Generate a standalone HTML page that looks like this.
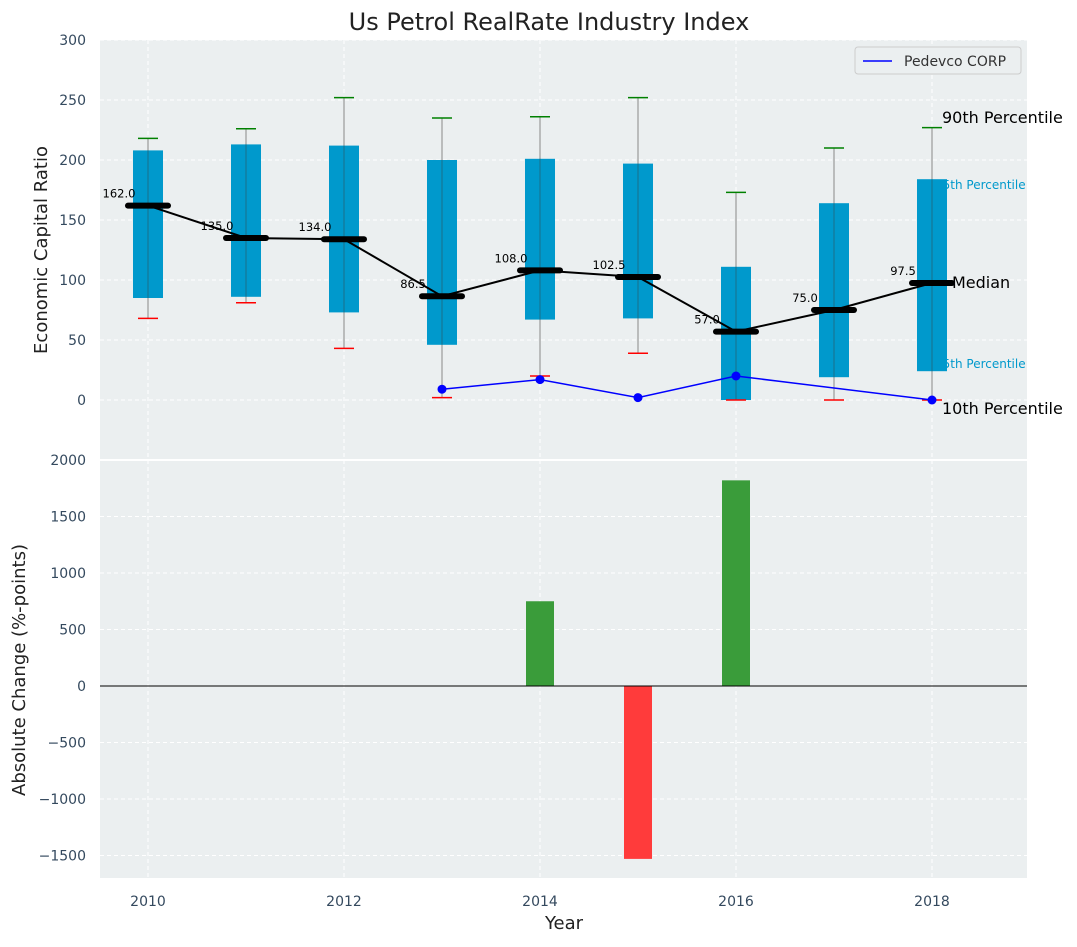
<!DOCTYPE html>
<html><head><meta charset="utf-8"><style>
body{margin:0;background:#fff;font-family:"Liberation Sans","DejaVu Sans",sans-serif}
svg text{font-family:"DejaVu Sans","Liberation Sans",sans-serif}
</style></head><body>
<svg id="c" width="1077" height="942"></svg>
<script>
const years=[2010,2011,2012,2013,2014,2015,2016,2017,2018];
const p10=[68,81,43,2,20,39,0,0,0];
const q1=[85,86,73,46,67,68,0,19,24];
const med=[162,135,134,86.5,108,102.5,57,75,97.5];
const q3=[208,213,212,200,201,197,111,164,184];
const p90=[218,226,252,235,236,252,173,210,227];
const pedYears=[2013,2014,2015,2016,2018];
const pedVals=[9,17,2,20,0];
const chgYears=[2014,2015,2016];
const chgVals=[750,-1530,1820];
const topTicks=[0,50,100,150,200,250,300];
const botTicks=[-1500,-1000,-500,0,500,1000,1500,2000];
const xTicks=[2010,2012,2014,2016,2018];

const NS="http://www.w3.org/2000/svg",svg=document.getElementById('c');
function el(t,a,txt,p){const e=document.createElementNS(NS,t);for(const k in a)e.setAttribute(k,a[k]);if(txt!=null)e.textContent=txt;(p||svg).appendChild(e);return e;}
const X=y=>148+(y-2010)*98;
const YT=v=>400-v*1.2;
const YB=v=>686-v*0.113;
const L=100,R=1027;

// backgrounds
let b=el('rect',{x:L,y:40,width:R-L,height:420,fill:'#ebeff0'});

b=el('rect',{x:L,y:460,width:R-L,height:418,fill:'#ebeff0'});

el('line',{x1:L,x2:R,y1:460,y2:460,stroke:'#fff','stroke-width':2});
// grids
xTicks.forEach(t=>{el('line',{x1:X(t),x2:X(t),y1:40,y2:878,stroke:'#fff','stroke-dasharray':'4,3'});
 const tx=el('text',{x:X(t),y:906,'text-anchor':'middle','font-size':14,fill:'#34495e'},t);
 });
topTicks.forEach(t=>{el('line',{x1:L,x2:R,y1:YT(t),y2:YT(t),stroke:'#fff','stroke-dasharray':'4,3'});
 const tx=el('text',{x:86,y:YT(t)+5,'text-anchor':'end','font-size':14,fill:'#34495e'},t);
 });
botTicks.forEach(t=>{el('line',{x1:L,x2:R,y1:YB(t),y2:YB(t),stroke:'#fff','stroke-dasharray':'4,3'});
 const tx=el('text',{x:86,y:YB(t)+5,'text-anchor':'end','font-size':14,fill:'#34495e'},String(t).replace('-','\u2212'));
 });

// labels behind boxes
const lb=[['90th Percentile',942,123,16,'#000'],['75th Percentile',935,189,12,'#0099cc'],['25th Percentile',935,368,12,'#0099cc'],['Median',952,288,16,'#000'],['10th Percentile',942,414,16,'#000']];
lb.forEach(l=>{const t=el('text',{x:l[1],y:l[2],'font-size':l[3],fill:l[4]},l[0]);
 });

// boxes
years.forEach((y,i)=>{const x=X(y);
 const w=el('line',{x1:x,x2:x,y1:YT(p90[i]),y2:YT(p10[i]),stroke:'#888','stroke-width':1});
 
 const r=el('rect',{x:x-15,y:YT(q3[i]),width:30,height:YT(q1[i])-YT(q3[i]),fill:'#0099cc'});
 
 el('line',{x1:x,x2:x,y1:YT(q3[i]),y2:YT(q1[i]),stroke:'#1a6f8a','stroke-width':1});
 const c1=el('line',{x1:x-10,x2:x+10,y1:YT(p90[i]),y2:YT(p90[i]),stroke:'green','stroke-width':1.5});
 
 const c2=el('line',{x1:x-10,x2:x+10,y1:YT(p10[i]),y2:YT(p10[i]),stroke:'red','stroke-width':1.5});
 
});
// median line
const ml=el('polyline',{points:years.map((y,i)=>X(y)+','+YT(med[i])).join(' '),fill:'none',stroke:'#000','stroke-width':2});

years.forEach((y,i)=>{const x=X(y);
 const m=el('line',{x1:x-20,x2:x+20,y1:YT(med[i]),y2:YT(med[i]),stroke:'#000','stroke-width':6,'stroke-linecap':'round'});
 
 const t=el('text',{x:x-29,y:YT(med[i])-8,'text-anchor':'middle','font-size':11.5,fill:'#000'},med[i].toFixed(1));
 
});
// pedevco
const pl=el('polyline',{points:pedYears.map((y,i)=>X(y)+','+YT(pedVals[i])).join(' '),fill:'none',stroke:'blue','stroke-width':1.5});

pedYears.forEach((y,i)=>{const d=el('circle',{cx:X(y),cy:YT(pedVals[i]),r:4.5,fill:'blue'});
 });

// bars
chgYears.forEach((y,i)=>{const v=chgVals[i];const r=el('rect',{x:X(y)-14,y:Math.min(YB(v),YB(0)),width:28,height:Math.abs(YB(v)-YB(0)),fill:v>=0?'#3a9c3a':'#ff3b3b'});
 });
el('line',{x1:L,x2:R,y1:YB(0),y2:YB(0),stroke:'#000','stroke-width':1});

// legend
const lg=el('g',{});
el('rect',{x:855,y:47,width:166,height:27,rx:3,fill:'#ebeff0',stroke:'#ccc'},null,lg);
el('line',{x1:863,x2:892,y1:61,y2:61,stroke:'blue','stroke-width':1.5},null,lg);
el('text',{x:904,y:66,'font-size':14,fill:'#333'},'Pedevco CORP',lg);

// titles
let t=el('text',{x:549,y:30,'text-anchor':'middle','font-size':24,fill:'#222'},'Us Petrol RealRate Industry Index');

t=el('text',{x:564,y:929,'text-anchor':'middle','font-size':18,fill:'#222'},'Year');

t=el('text',{x:0,y:0,'text-anchor':'middle','font-size':18,fill:'#222',transform:'translate(47,250) rotate(-90)'},'Economic Capital Ratio');

t=el('text',{x:0,y:0,'text-anchor':'middle','font-size':18,fill:'#222',transform:'translate(25,670) rotate(-90)'},'Absolute Change (%-points)');

</script>
</body></html>
